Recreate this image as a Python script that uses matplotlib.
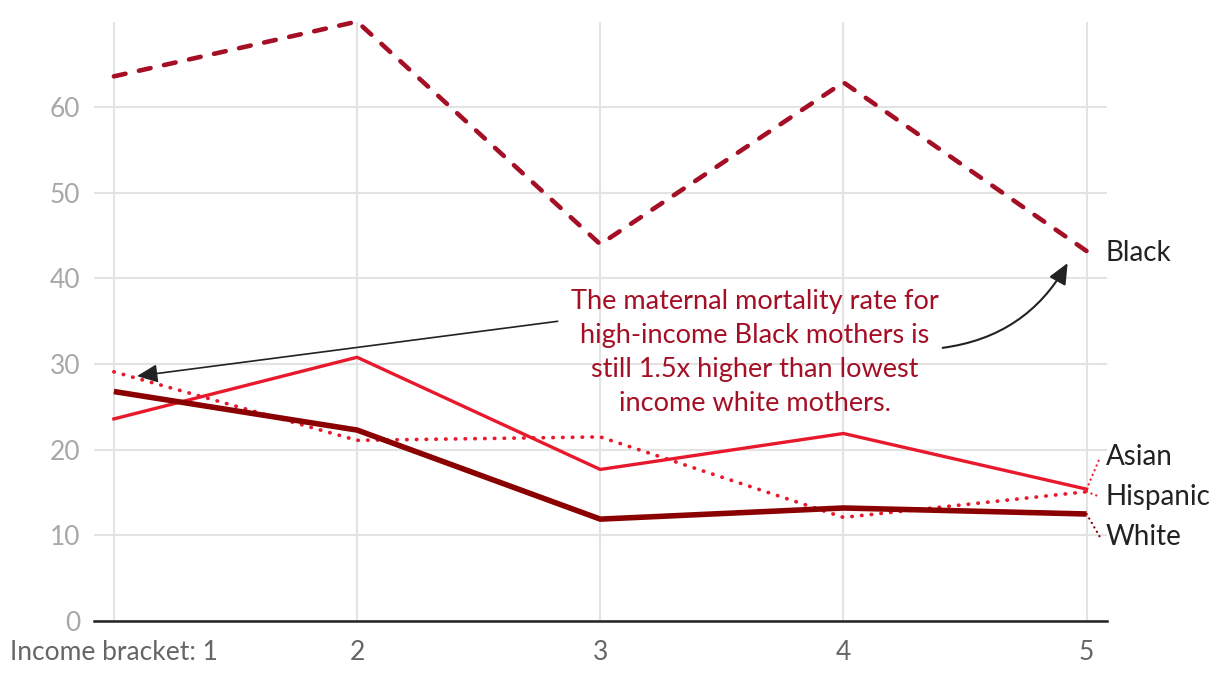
import numpy as np
import matplotlib.pyplot as plt

plt.rcParams['font.family'] = ['Lato', 'DejaVu Sans']

brackets = [1, 2, 3, 4, 5]
tick_labels = ["Income bracket: 1", "2", "3", "4", "5"]
black = [63.6, 70.0, 44.0, 62.9, 43.2]
asian = [23.6, 30.8, 17.7, 21.9, 15.4]
hispanic = [29.1, 21.1, 21.5, 12.1, 15.1]
white = [26.8, 22.3, 11.9, 13.2, 12.5]

# where the end labels sit (data units)
label_y = {"Asian": 19.1, "Hispanic": 14.5, "White": 9.8}

c_black = "#a50f25"
c_red = "#e8192c"
c_white = "#8b0000"

fig = plt.figure(figsize=(12.2, 6.74), dpi=100)
ax = fig.add_axes([0.077, 0.0786, 0.83, 0.8894])

ax.plot(brackets, black, color=c_black, lw=3.3, dashes=(2.6, 3.0),
        dash_capstyle='round', clip_on=False, zorder=3)
ax.plot(brackets, asian, color=c_red, lw=2.4, clip_on=False, zorder=3)
ax.plot(brackets, hispanic, color=c_red, lw=2.7, dashes=(0.1, 2.5),
        dash_capstyle='round', clip_on=False, zorder=3)
ax.plot(brackets, white, color=c_white, lw=4.0, solid_capstyle='butt',
        clip_on=False, zorder=4)

ax.set_xlim(0.918, 5.082)
ax.set_ylim(0, 70)
ax.set_xticks(brackets)
ax.set_xticklabels(tick_labels)
ax.set_yticks(range(0, 70, 10))

for s in ['top', 'right', 'left']:
    ax.spines[s].set_visible(False)
ax.spines['bottom'].set_color('#222222')
ax.spines['bottom'].set_linewidth(1.8)
ax.grid(True, color='#e3e3e3', lw=1.5)
ax.set_axisbelow(True)
ax.tick_params(axis='both', length=0)
ax.tick_params(axis='x', labelsize=19, labelcolor='#666666', pad=14)
ax.tick_params(axis='y', labelsize=19, labelcolor='#a8a8a8', pad=10)

# end labels with small dotted connectors
lx = 5.078
ax.text(lx, black[-1] - 0.2, "Black", fontsize=20, color='#222222',
        va='center', ha='left', clip_on=False)
for name, vals, col in [("Asian", asian, c_red), ("Hispanic", hispanic, c_red),
                        ("White", white, c_white)]:
    ax.plot([5, 5.055], [vals[-1], label_y[name]], color=col, lw=1.6,
            dashes=(0.1, 2.2), dash_capstyle='round', clip_on=False)
    ax.text(lx, label_y[name], name, fontsize=20, color='#222222',
            va='center', ha='left', clip_on=False)

# annotation
ax.text(3.635, 31.3,
        "The maternal mortality rate for\nhigh-income Black mothers is\n"
        "still 1.5x higher than lowest\nincome white mothers.",
        fontsize=19.5, color=c_black, ha='center', va='center',
        linespacing=1.45, zorder=5)
ax.annotate("", xy=(1.095, 28.6), xytext=(2.825, 35.0),
            arrowprops=dict(arrowstyle='-|>,head_length=0.9,head_width=0.4',
                            color='#222222', lw=1.2, shrinkA=0, shrinkB=0,
                            mutation_scale=14))
ax.annotate("", xy=(4.922, 41.8), xytext=(4.408, 31.9),
            arrowprops=dict(arrowstyle='-|>,head_length=0.9,head_width=0.4',
                            color='#222222', lw=1.5, shrinkA=0, shrinkB=0,
                            mutation_scale=14,
                            connectionstyle='arc3,rad=0.25'))

fig.savefig("out.png", dpi=100)
